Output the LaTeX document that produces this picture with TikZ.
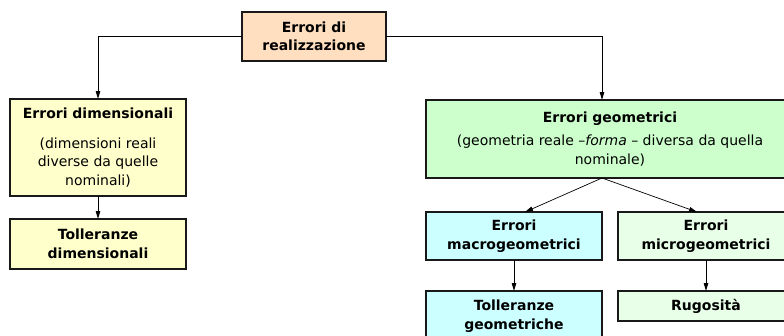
\documentclass[tikz,border=0pt]{standalone}
\usepackage{fontspec}
\setmainfont{DejaVu Sans}
\usetikzlibrary{arrows.meta,calc}
\definecolor{peach}{RGB}{255,223,192}
\definecolor{lyellow}{RGB}{255,255,204}
\definecolor{lgreen}{RGB}{204,255,204}
\definecolor{pgreen}{RGB}{232,255,232}
\definecolor{lcyan}{RGB}{204,255,255}
\tikzset{
  box/.style={draw=black!90, line width=1.1pt, rectangle, inner sep=0pt, outer sep=0pt,
    align=center, font=\fontsize{14}{18.5}\selectfont},
  arr/.style={draw=black, line width=1pt, -{Triangle[length=8pt,width=4.5pt]}},
  thinarr/.style={draw=black, line width=0.7pt, -{Triangle[length=8pt,width=4.5pt]}}
}
\begin{document}
\begin{tikzpicture}[x=1pt,y=-1pt]
\clip (0,0) rectangle (784,335);
\fill[white] (0,0) rectangle (784,335);
\node[box, fill=peach, minimum width=144pt, minimum height=49pt] (top) at (314,36.5)
  {\textbf{Errori di}\\\textbf{realizzazione}};
\node[box, fill=lyellow, minimum width=176pt, minimum height=97pt] (dim) at (98,147.5)
  {\textbf{Errori dimensionali}\\[11pt](dimensioni reali\\diverse da quelle\\nominali)};
\node[box, fill=lyellow, minimum width=176pt, minimum height=50pt] (toldim) at (98,244)
  {\textbf{Tolleranze}\\\textbf{dimensionali}};
\node[box, fill=lgreen, minimum width=368pt, minimum height=78pt] (geo) at (610,139)
  {\textbf{Errori geometrici}\\[4.5pt](geometria reale \textit{–forma} – diversa da quella\\nominale)};
\node[box, fill=lcyan, minimum width=176pt, minimum height=48pt] (macro) at (514,236)
  {\textbf{Errori}\\\textbf{macrogeometrici}};
\node[box, fill=pgreen, minimum width=176pt, minimum height=48pt] (micro) at (706,236)
  {\textbf{Errori}\\\textbf{microgeometrici}};
\node[box, fill=lcyan, minimum width=176pt, minimum height=60pt] (tolgeo) at (514,321)
  {};
\node[font=\fontsize{14}{18.5}\selectfont, align=center, inner sep=0pt] (tolgeotext) at (514,316)
  {\textbf{Tolleranze}\\\textbf{geometriche}};
\node[box, fill=pgreen, minimum width=176pt, minimum height=30pt] (rug) at (706,306)
  {\textbf{Rugosità}};
\coordinate (gtop) at (602,100);
\coordinate (gbot) at (602,178);
\draw[arr] (top.west) -| (dim.north);
\draw[arr] (top.east) -| (gtop);
\draw[arr] (dim.south) -- (toldim.north);
\draw[thinarr] (gbot) -- ($(macro.north)+(11,0)$);
\draw[thinarr] (gbot) -- ($(micro.north)+(-9,0)$);
\draw[arr] (macro.south) -- (tolgeo.north);
\draw[arr] (micro.south) -- (rug.north);
\end{tikzpicture}
\end{document}
